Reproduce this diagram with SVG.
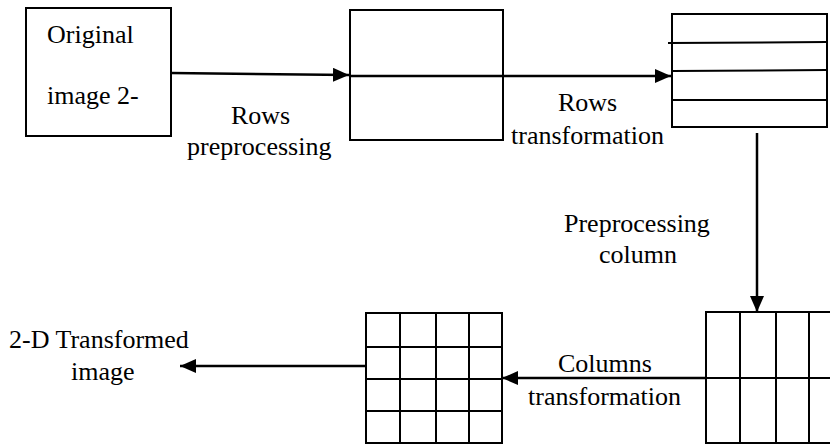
<svg xmlns="http://www.w3.org/2000/svg" width="830" height="445" viewBox="0 0 830 445">
<style>
.b{fill:none;stroke:#000;stroke-width:2}
.l{stroke:#000;stroke-width:2;fill:none}
.c{stroke:#000;stroke-width:2.5;fill:none}
text{font-family:"Liberation Serif","Times New Roman",serif;font-size:26px;fill:#000}
</style>
<defs>
<marker id="ah" markerWidth="16" markerHeight="14" refX="16" refY="7" orient="auto" markerUnits="userSpaceOnUse">
<path d="M0,0 L16,7 L0,14 Z" fill="#000"/>
</marker>
</defs>
<rect width="830" height="445" fill="#fff"/>
<g id="original">
<rect class="b" x="26" y="8" width="145" height="128"/>
<text x="47" y="43">Original</text>
<text x="47" y="104">image 2-</text>
</g>
<g id="preprocessed">
<rect class="b" x="350" y="10" width="153" height="130"/>
</g>
<g id="rows-transformed">
<rect class="b" x="672" y="14" width="155" height="113"/>
<line class="l" x1="668" y1="43" x2="827" y2="42"/>
<line class="l" x1="672" y1="71" x2="827" y2="70"/>
<line class="l" x1="673" y1="100" x2="827" y2="100"/>
</g>
<g id="columns-preprocessed">
<rect class="b" x="706" y="312" width="140" height="131"/>
<line class="l" x1="740" y1="312" x2="740" y2="443"/>
<line class="l" x1="776" y1="312" x2="776" y2="443"/>
<line class="l" x1="809" y1="312" x2="809" y2="443"/>
<line class="l" x1="706" y1="378" x2="830" y2="378"/>
</g>
<g id="grid">
<rect class="b" x="366" y="313" width="136" height="130"/>
<line class="l" x1="400" y1="313" x2="400" y2="443"/>
<line class="l" x1="436" y1="313" x2="436" y2="443"/>
<line class="l" x1="469" y1="313" x2="469" y2="443"/>
<line class="l" x1="366" y1="347" x2="502" y2="347"/>
<line class="l" x1="366" y1="379" x2="502" y2="379"/>
<line class="l" x1="366" y1="411" x2="502" y2="411"/>
</g>
<g id="output">
<text x="9" y="348">2-D Transformed</text>
<text x="71" y="380">image</text>
</g>
<g id="connectors">
<line class="c" x1="171" y1="73" x2="349" y2="75" marker-end="url(#ah)"/>
<line class="c" x1="350" y1="76" x2="671" y2="76" marker-end="url(#ah)"/>
<line class="c" x1="757" y1="133" x2="757" y2="312" marker-end="url(#ah)"/>
<line class="c" x1="706" y1="378" x2="502" y2="378" marker-end="url(#ah)"/>
<line class="c" x1="366" y1="366" x2="180" y2="366" marker-end="url(#ah)"/>
<text x="231" y="124">Rows</text>
<text x="187" y="155">preprocessing</text>
<text x="558" y="111">Rows</text>
<text x="511" y="144">transformation</text>
<text x="564" y="232">Preprocessing</text>
<text x="599" y="263">column</text>
<text x="558" y="372">Columns</text>
<text x="528" y="405">transformation</text>
</g>
</svg>
